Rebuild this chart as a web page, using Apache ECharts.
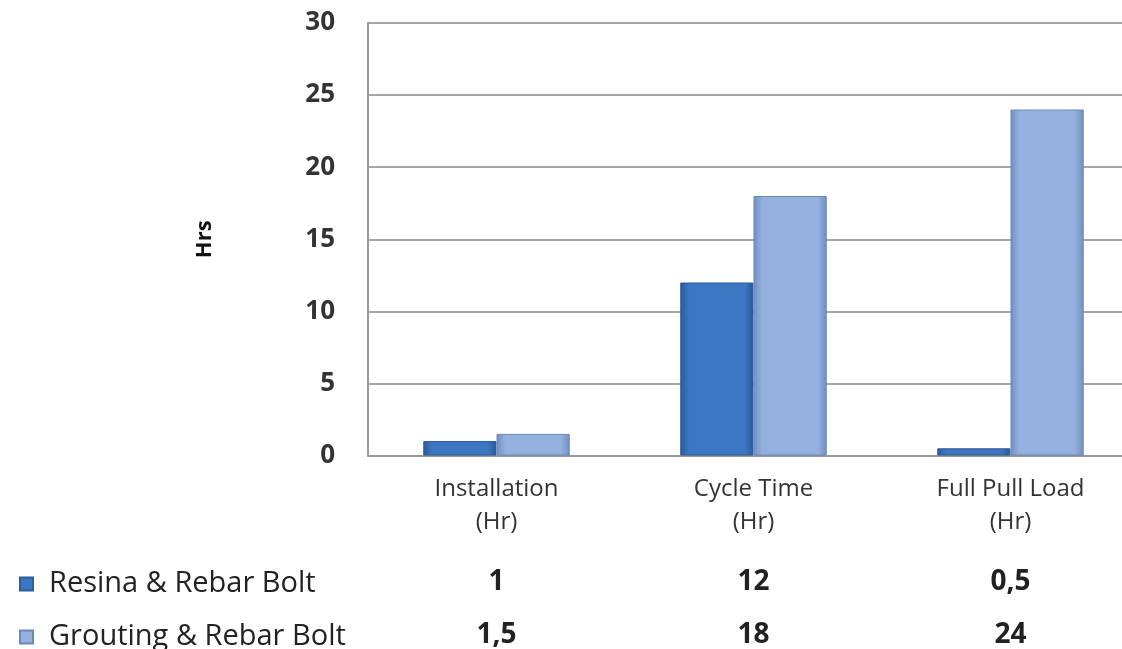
<!DOCTYPE html>
<html><head><meta charset="utf-8">
<script src="https://cdn.jsdelivr.net/npm/echarts@6/dist/echarts.min.js"></script>
<style>html,body{margin:0;padding:0;background:#fff;overflow:hidden;width:1122px;height:649px}#c{width:1139px;height:649px}</style>
</head><body><div id="c"></div>
<script>
const categories = ['Installation\n(Hr)', 'Cycle Time\n(Hr)', 'Full Pull Load\n(Hr)'];
const seriesNames = ['Resina & Rebar Bolt', 'Grouting & Rebar Bolt'];
const resina = [1, 12, 0.5];
const grouting = [1.5, 18, 24];
const resinaLabels = ['1', '12', '0,5'];
const groutingLabels = ['1,5', '18', '24'];
const yTicks = [0, 5, 10, 15, 20, 25, 30];

const FONT = '"Open Sans", sans-serif';
function grad(edge, mid) {
  return new echarts.graphic.LinearGradient(0, 0, 1, 0, [
    {offset: 0, color: edge}, {offset: 0.12, color: mid}, {offset: 0.88, color: mid}, {offset: 1, color: edge}
  ]);
}
const chart = echarts.init(document.getElementById('c'));
chart.setOption({
  animation: false,
  color: ['#3d77c2', '#93b0de'],
  grid: {left: 368, top: 23, width: 771, height: 433.5, containLabel: false},
  legend: {
    orient: 'vertical', left: 19, top: 568, height: 120, padding: 0,
    itemWidth: 13, itemHeight: 13, itemGap: 21,
    icon: 'rect',
    textStyle: {fontFamily: FONT, fontSize: 29, color: '#222', lineHeight: 32, padding: [0, 0, 0, 11]},
    data: seriesNames
  },
  xAxis: {
    type: 'category', data: categories,
    axisTick: {show: false},
    axisLine: {lineStyle: {color: '#999', width: 2}},
    axisLabel: {
      margin: 17, interval: 0,
      formatter: function (v, i) {
        const parts = v.split('\n');
        return '{c|' + parts[0] + '}\n{c|' + parts[1] + '}\n{s| }\n{v|' + resinaLabels[i] + '}\n{v|' + groutingLabels[i] + '}';
      },
      rich: {
        c: {fontFamily: FONT, fontSize: 24, color: '#333', lineHeight: 33},
        s: {fontSize: 10, lineHeight: 17},
        v: {fontFamily: FONT, fontSize: 28, fontWeight: 'bold', color: '#222', lineHeight: 53}
      }
    }
  },
  yAxis: {
    type: 'value', min: yTicks[0], max: yTicks[yTicks.length - 1], interval: 5,
    name: 'Hrs', nameLocation: 'middle', nameRotate: 90, nameGap: 152,
    nameTextStyle: {fontFamily: FONT, fontSize: 22, fontWeight: 'bold', color: '#111'},
    axisLine: {show: true, lineStyle: {color: '#999', width: 2}},
    axisTick: {show: false},
    axisLabel: {margin: 33, fontFamily: FONT, fontSize: 26, fontWeight: 'bold', color: '#333'},
    splitLine: {lineStyle: {color: '#a6a6a6', width: 2}}
  },
  series: [
    {name: seriesNames[0], type: 'bar', data: resina, barGap: '0%', barCategoryGap: '43%',
     itemStyle: {color: grad('#2a5a98', '#3d77c2'), borderColor: '#2d5d9c', borderWidth: 1}},
    {name: seriesNames[1], type: 'bar', data: grouting,
     itemStyle: {color: grad('#6f8ec0', '#93b0de'), borderColor: '#6a88b8', borderWidth: 1}}
  ]
});
</script></body></html>
